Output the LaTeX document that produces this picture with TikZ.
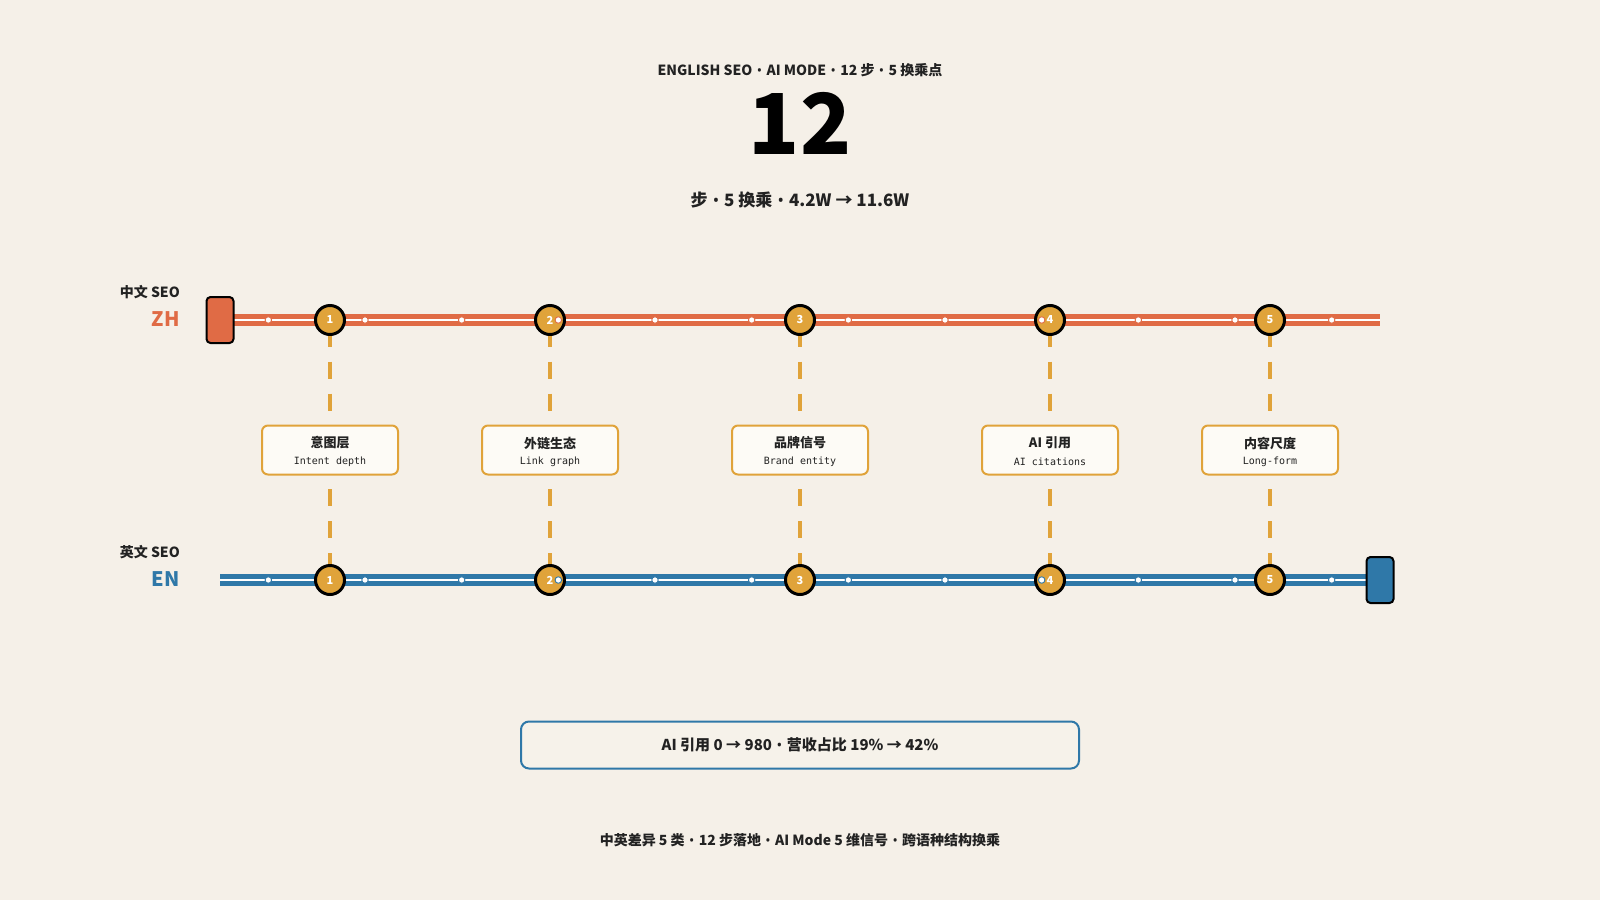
\documentclass[tikz,border=0pt]{standalone}
\usepackage{fontspec}
\setmainfont{Noto Sans CJK SC}
\setmonofont{DejaVu Sans Mono}
\newfontfamily\latinfont{Noto Sans}
\newcommand{\bul}{{\latinfont\bfseries\kern1.2pt•\kern1.2pt}}
\definecolor{bg}{HTML}{F5F0E8}
\definecolor{ink}{HTML}{222222}
\definecolor{zh}{HTML}{E06B45}
\definecolor{en}{HTML}{2F78A8}
\definecolor{gold}{HTML}{E0A33A}
\definecolor{cardfill}{HTML}{FDFBF6}
\definecolor{notefill}{HTML}{F6F2EA}
\tikzset{
  bigfont/.style={font=\bfseries\fontsize{#1}{#1}\selectfont},
  terminal/.style={draw=black, line width=2pt, rounded corners=4pt, minimum width=27pt, minimum height=46pt, inner sep=0pt},
  station/.style={circle, draw=black, fill=gold, line width=3pt, minimum size=29pt, inner sep=0pt, text=white, font=\bfseries\fontsize{11}{11}\selectfont},
  stepdot/.style={circle, fill=white, draw=#1, line width=0.9pt, minimum size=6.5pt, inner sep=0pt},
  card/.style={draw=gold, fill=cardfill, line width=2pt, rounded corners=6pt, minimum width=136pt, minimum height=49pt, inner sep=0pt},
  cardtitle/.style={text=ink, font=\bfseries\fontsize{13}{13}\selectfont, inner sep=0pt},
  cardsub/.style={text=ink, font=\ttfamily\fontsize{10}{10}\selectfont, inner sep=0pt},
  dashline/.style={draw=gold, line width=3.5pt, dash pattern=on 17pt off 15pt},
  railbase/.style={line width=11.5pt},
  railstripe/.style={draw=white, line width=2.2pt},
  note/.style={draw=en, fill=notefill, line width=2pt, rounded corners=8pt, minimum width=558pt, minimum height=47pt, inner sep=0pt, text=ink, font=\bfseries\fontsize{15}{15}\selectfont},
}
\begin{document}
\begin{tikzpicture}[x=1pt,y=-1pt]
\useasboundingbox[fill=bg] (0,0) rectangle (1600,900);

% header
\node[bigfont=14, text=ink] (title) at (800,70) {ENGLISH SEO \bul{} AI MODE \bul{} 12 步 \bul{} 5 换乘点};
\node[bigfont=84, text=black, inner sep=0pt] (big) at (800,123) {12};
\node[bigfont=17, text=ink] (sub) at (800,200) {步 \bul{} 5 换乘 \bul{} 4.2W → 11.6W};

% line labels
\node[bigfont=14, text=ink, anchor=east, inner sep=0pt] (zhlab) at (180,292) {中文 SEO};
\node[bigfont=20, text=zh, anchor=east, inner sep=0pt] (zhcode) at (180,319) {ZH};
\node[bigfont=14, text=ink, anchor=east, inner sep=0pt] (enlab) at (180,552) {英文 SEO};
\node[bigfont=20, text=en, anchor=east, inner sep=0pt] (encode) at (180,579) {EN};

% rails
\coordinate (zhA) at (220,320);
\coordinate (zhB) at (1380,320);
\coordinate (enA) at (220,580);
\coordinate (enB) at (1380,580);
\draw[railbase, draw=zh] (zhA) -- (zhB);
\draw[railstripe] (zhA) -- (zhB);
\draw[railbase, draw=en] (enA) -- (enB);
\draw[railstripe] (enA) -- (enB);

% terminals
\node[terminal, fill=zh] (zhT) at (zhA) {};
\node[terminal, fill=en] (enT) at (enB) {};

% stations, cards, connectors
\foreach \i/\x/\t/\s in {1/330/意图层/Intent depth, 2/550/外链生态/Link graph, 3/800/品牌信号/Brand entity, 4/1050/AI 引用/AI citations, 5/1270/内容尺度/Long-form}{
  \node[station] (zs\i) at (\x,320) {\i};
  \node[station] (es\i) at (\x,580) {\i};
  \node[card] (c\i) at (\x,450) {};
  \node[cardtitle] (ct\i) at (\x,443) {\t};
  \node[cardsub] (cs\i) at (\x,461.5) {\s};
  \draw[dashline, dash phase=6.5pt] (zs\i) -- (c\i);
  \draw[dashline, dash phase=18.5pt] (c\i) -- (es\i);
}

% step dots (12 steps)
\foreach \k in {0,...,11}{
  \pgfmathsetmacro{\dx}{220+96.6667*(\k+0.5)}
  \node[stepdot=zh] (zd\k) at (\dx,320) {};
  \node[stepdot=en] (ed\k) at (\dx,580) {};
}

% result note
\node[note] (res) at (800,745) {AI 引用 0 → 980 \bul{} 营收占比 19\% → 42\%};

% footer
\node[bigfont=14, text=ink] (foot) at (800,840) {中英差异 5 类 \bul{} 12 步落地 \bul{} AI Mode 5 维信号 \bul{} 跨语种结构换乘};
\end{tikzpicture}
\end{document}
